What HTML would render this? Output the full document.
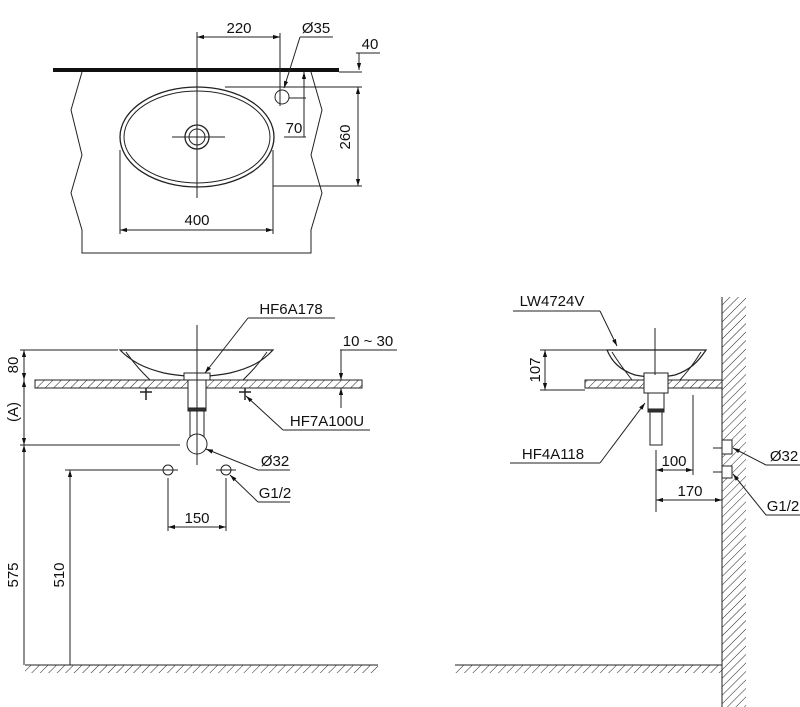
<!DOCTYPE html>
<html><head><meta charset="utf-8"><style>
html,body{margin:0;padding:0;background:#fff;}
svg{display:block;}
text{font-family:"Liberation Sans",Arial,sans-serif;font-size:15px;fill:#111;}
</style></head><body>
<svg width="800" height="707" viewBox="0 0 800 707" xmlns="http://www.w3.org/2000/svg">
<defs>
<pattern id="h" width="6" height="6" patternUnits="userSpaceOnUse" patternTransform="rotate(45)">
<line x1="0" y1="0" x2="0" y2="6" stroke="#222" stroke-width="1"/>
</pattern>
<marker id="a" viewBox="0 0 10 10" refX="10" refY="5" markerWidth="7" markerHeight="7" orient="auto-start-reverse">
<path d="M0,2 L10,5 L0,8 z" fill="#111"/>
</marker>
</defs>
<g stroke="#222" stroke-width="1" fill="none">
<!-- TOP VIEW -->
<rect x="53" y="68" width="286" height="4" fill="#111" stroke="none"/>
<polyline points="82,72 71,110 82,155 71,193 82,230 82,253 311,253 311,230 322,193 311,155 322,110 311,72"/>
<ellipse cx="197" cy="137" rx="77" ry="50" stroke-width="1.3"/>
<ellipse cx="197" cy="137" rx="73" ry="46"/>
<circle cx="197" cy="137" r="12" stroke-width="1.3"/>
<circle cx="197" cy="137" r="8"/>
<line x1="197" y1="32" x2="197" y2="198"/>
<line x1="172" y1="137" x2="225" y2="137"/>
<line x1="280" y1="33" x2="280" y2="106"/>
<line x1="197" y1="37" x2="280" y2="37" marker-start="url(#a)" marker-end="url(#a)"/>
<circle cx="282" cy="97" r="7"/>
<line x1="300" y1="37" x2="333" y2="37"/>
<line x1="300" y1="37" x2="284" y2="88" marker-end="url(#a)"/>
<line x1="356" y1="53" x2="380" y2="53"/>
<line x1="359" y1="53" x2="359" y2="70" marker-end="url(#a)"/>
<line x1="339" y1="72" x2="362" y2="72"/>
<line x1="289" y1="98" x2="306" y2="98"/>
<line x1="304" y1="72" x2="304" y2="98" marker-start="url(#a)"/>
<line x1="304" y1="98" x2="304" y2="137"/>
<line x1="284" y1="137" x2="306" y2="137"/>
<line x1="225" y1="87" x2="362" y2="87"/>
<line x1="273" y1="186" x2="362" y2="186"/>
<line x1="358" y1="87" x2="358" y2="186" marker-start="url(#a)" marker-end="url(#a)"/>
<line x1="120" y1="150" x2="120" y2="234"/>
<line x1="273" y1="150" x2="273" y2="234"/>
<line x1="120" y1="230" x2="273" y2="230" marker-start="url(#a)" marker-end="url(#a)"/>

<!-- SIDE VIEW LEFT -->
<rect x="35" y="380" width="327" height="8" fill="url(#h)"/>
<path d="M120,350 L273,350 C262,362 250,368 230,373 C215,376 205,376 197,377 C189,376 179,376 164,373 C144,368 132,362 120,350 Z" fill="#fff" stroke-width="1.2"/>
<path d="M126,352 C135,365 142,372 150,380 M267,352 C258,365 251,372 243,380"/>
<rect x="184" y="373" width="26" height="7" fill="#fff"/>
<rect x="188" y="380" width="18" height="30" fill="#fff"/>
<rect x="188" y="408" width="18" height="3" fill="#333"/>
<path d="M190,411 L190,440 M204,411 L204,440"/>
<circle cx="197" cy="444" r="10" fill="#fff"/>
<path d="M146,388 L146,400 M140,392 L152,392 M245,388 L245,400 M239,392 L251,392" stroke-width="1.5"/>
<line x1="197" y1="325" x2="197" y2="465"/>
<line x1="20" y1="350" x2="118" y2="350"/>
<line x1="20" y1="445" x2="180" y2="445"/>
<line x1="24" y1="350" x2="24" y2="380" marker-start="url(#a)" marker-end="url(#a)"/>
<line x1="24" y1="380" x2="24" y2="445" marker-start="url(#a)" marker-end="url(#a)"/>
<line x1="24" y1="445" x2="24" y2="665" marker-start="url(#a)"/>
<line x1="65" y1="470" x2="160" y2="470"/>
<line x1="70" y1="470" x2="70" y2="665" marker-start="url(#a)"/>
<circle cx="168" cy="470" r="5"/>
<circle cx="226" cy="470" r="5"/>
<line x1="158" y1="470" x2="178" y2="470"/><line x1="216" y1="470" x2="236" y2="470"/>
<line x1="168" y1="478" x2="168" y2="531"/>
<line x1="226" y1="478" x2="226" y2="531"/>
<line x1="168" y1="527" x2="226" y2="527" marker-start="url(#a)" marker-end="url(#a)"/>
<line x1="248" y1="318" x2="335" y2="318"/>
<line x1="248" y1="318" x2="205" y2="373" marker-end="url(#a)"/>
<line x1="340" y1="350" x2="397" y2="350"/>
<line x1="341" y1="350" x2="341" y2="380" marker-end="url(#a)"/>
<line x1="341" y1="408" x2="341" y2="388" marker-end="url(#a)"/>
<line x1="283" y1="430" x2="370" y2="430"/>
<line x1="283" y1="430" x2="246" y2="396" marker-end="url(#a)"/>
<line x1="258" y1="470" x2="290" y2="470"/>
<line x1="258" y1="470" x2="206" y2="449" marker-end="url(#a)"/>
<line x1="258" y1="502" x2="290" y2="502"/>
<line x1="258" y1="502" x2="230" y2="475" marker-end="url(#a)"/>
<line x1="25" y1="665" x2="378" y2="665"/>
<rect x="25" y="665" width="353" height="8" fill="url(#h)" stroke="none"/>

<!-- SIDE VIEW RIGHT -->
<rect x="722" y="297" width="24" height="410" fill="url(#h)" stroke="none"/>
<line x1="722" y1="297" x2="722" y2="707"/>
<rect x="585" y="380" width="137" height="8" fill="url(#h)"/>
<path d="M607,350 L706,350 C698,362 690,370 675,375 C665,377 660,377 655,377 C650,377 645,377 635,375 C620,370 612,362 607,350 Z" fill="#fff" stroke-width="1.2"/>
<path d="M612,352 C620,365 626,372 632,380 M701,352 C693,365 687,372 680,380"/>
<rect x="644" y="373" width="24" height="20" fill="#fff"/>
<rect x="648" y="393" width="16" height="16" fill="#fff"/>
<rect x="648" y="409" width="16" height="3" fill="#333"/>
<rect x="650" y="412" width="12" height="33" fill="#fff"/>
<line x1="655" y1="328" x2="655" y2="375"/>
<line x1="540" y1="350" x2="607" y2="350"/>
<line x1="540" y1="390" x2="585" y2="390"/>
<line x1="545" y1="350" x2="545" y2="390" marker-start="url(#a)" marker-end="url(#a)"/>
<line x1="513" y1="311" x2="600" y2="311"/>
<line x1="600" y1="311" x2="617" y2="346" marker-end="url(#a)"/>
<line x1="510" y1="463" x2="600" y2="463"/>
<line x1="600" y1="463" x2="645" y2="403" marker-end="url(#a)"/>
<line x1="656" y1="450" x2="656" y2="512"/>
<line x1="693" y1="395" x2="693" y2="475"/>
<line x1="656" y1="470" x2="693" y2="470" marker-start="url(#a)" marker-end="url(#a)"/>
<line x1="656" y1="500" x2="722" y2="500" marker-start="url(#a)" marker-end="url(#a)"/>
<rect x="722" y="440" width="10" height="14" fill="#fff"/>
<rect x="722" y="466" width="10" height="12" fill="#fff"/>
<line x1="713" y1="448" x2="722" y2="448"/><line x1="713" y1="472" x2="722" y2="472"/>
<line x1="766" y1="465" x2="800" y2="465"/>
<line x1="766" y1="465" x2="733" y2="448" marker-end="url(#a)"/>
<line x1="766" y1="515" x2="800" y2="515"/>
<line x1="766" y1="515" x2="733" y2="474" marker-end="url(#a)"/>
<line x1="455" y1="665" x2="722" y2="665"/>
<rect x="455" y="665" width="267" height="8" fill="url(#h)" stroke="none"/>
</g>
<g text-anchor="middle">
<text x="239" y="33">220</text>
<text x="316" y="33">Ø35</text>
<text x="370" y="49">40</text>
<text x="294" y="133">70</text>
<text x="197" y="225">400</text>
<text transform="translate(350,137) rotate(-90)">260</text>
<text x="291" y="314">HF6A178</text>
<text x="368" y="346">10 ~ 30</text>
<text x="327" y="426">HF7A100U</text>
<text x="275" y="466">Ø32</text>
<text x="275" y="498">G1/2</text>
<text x="197" y="523">150</text>
<text transform="translate(18,365) rotate(-90)">80</text>
<text transform="translate(18,412) rotate(-90)">(A)</text>
<text transform="translate(18,575) rotate(-90)">575</text>
<text transform="translate(64,575) rotate(-90)">510</text>
<text x="552" y="306">LW4724V</text>
<text x="553" y="459">HF4A118</text>
<text transform="translate(540,370) rotate(-90)">107</text>
<text x="674" y="466">100</text>
<text x="690" y="496">170</text>
<text x="784" y="461">Ø32</text>
<text x="783" y="511">G1/2</text>
</g>
</svg>
</body></html>
